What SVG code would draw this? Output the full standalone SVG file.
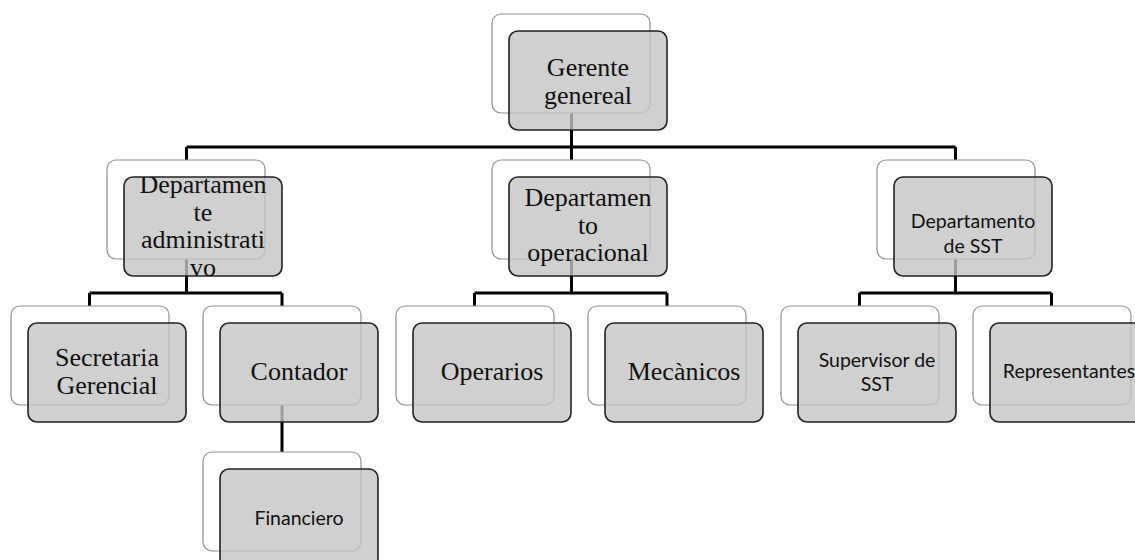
<svg xmlns="http://www.w3.org/2000/svg" width="1135" height="560" viewBox="0 0 1135 560">
<style>
.bk{fill:#ffffff;stroke:#8f8f8f;stroke-width:1.2}
.fr{fill:rgb(196,196,196);fill-opacity:0.8;stroke:#222222;stroke-width:1.6}
.sr{font-family:"Liberation Serif","Times New Roman",serif;font-size:26px;fill:#111111;text-anchor:middle}
.ss{font-family:Lato,"Liberation Sans",sans-serif;font-size:19.5px;fill:#111111;text-anchor:middle}
.cn{fill:none;stroke:#000000;stroke-width:3}
</style>
<defs>
<clipPath id="clipAdmin"><rect x="124" y="177" width="158" height="99" rx="9"/></clipPath>
</defs>
<rect width="1135" height="560" fill="#ffffff"/>
<g id="connectors" class="cn">
<path d="M571.5 113V147M186.5 147H955.5M186.5 147V160M571.5 147V160M955.5 147V160"/>
<path d="M186.5 259V293M89.5 293H282M89.5 293V306M282 293V306"/>
<path d="M571.5 259V293M474.5 293H667M474.5 293V306M667 293V306"/>
<path d="M955.5 259V293M859.5 293H1051.5M859.5 293V306M1051.5 293V306"/>
<path d="M282 405V452"/>
</g>
<g id="gerente">
<rect class="bk" x="492" y="14" width="158" height="99" rx="9"/>
<rect class="fr" x="509" y="31" width="158" height="99" rx="9"/>
<text class="sr"><tspan x="588" y="76">Gerente</tspan><tspan x="588" y="103.5">genereal</tspan></text>
</g>
<g id="dept-admin">
<rect class="bk" x="107" y="160" width="158" height="99" rx="9"/>
<rect class="fr" x="124" y="177" width="158" height="99" rx="9"/>
<text class="sr" clip-path="url(#clipAdmin)"><tspan x="203" y="193">Departamen</tspan><tspan x="203" y="220.5">te</tspan><tspan x="203" y="248">administrati</tspan><tspan x="203" y="275.5">vo</tspan></text>
</g>
<g id="dept-oper">
<rect class="bk" x="492" y="160" width="158" height="99" rx="9"/>
<rect class="fr" x="509" y="177" width="158" height="99" rx="9"/>
<text class="sr"><tspan x="588" y="206">Departamen</tspan><tspan x="588" y="233.5">to</tspan><tspan x="588" y="261">operacional</tspan></text>
</g>
<g id="dept-sst">
<rect class="bk" x="877" y="160" width="158" height="99" rx="9"/>
<rect class="fr" x="894" y="177" width="158" height="99" rx="9"/>
<text class="ss"><tspan x="973" y="228">Departamento</tspan><tspan x="973" y="253">de SST</tspan></text>
</g>
<g id="secretaria">
<rect class="bk" x="11" y="306" width="158" height="99" rx="9"/>
<rect class="fr" x="28" y="323" width="158" height="99" rx="9"/>
<text class="sr"><tspan x="107" y="366">Secretaria</tspan><tspan x="107" y="393.5">Gerencial</tspan></text>
</g>
<g id="contador">
<rect class="bk" x="203" y="306" width="158" height="99" rx="9"/>
<rect class="fr" x="220" y="323" width="158" height="99" rx="9"/>
<text class="sr" x="299" y="380">Contador</text>
</g>
<g id="operarios">
<rect class="bk" x="396" y="306" width="158" height="99" rx="9"/>
<rect class="fr" x="413" y="323" width="158" height="99" rx="9"/>
<text class="sr" x="492" y="380">Operarios</text>
</g>
<g id="mecanicos">
<rect class="bk" x="588" y="306" width="158" height="99" rx="9"/>
<rect class="fr" x="605" y="323" width="158" height="99" rx="9"/>
<text class="sr" x="684" y="380">Mecànicos</text>
</g>
<g id="supervisor">
<rect class="bk" x="781" y="306" width="158" height="99" rx="9"/>
<rect class="fr" x="798" y="323" width="158" height="99" rx="9"/>
<text class="ss"><tspan x="877" y="367">Supervisor de</tspan><tspan x="877" y="391">SST</tspan></text>
</g>
<g id="representantes">
<rect class="bk" x="973" y="306" width="158" height="99" rx="9"/>
<rect class="fr" x="990" y="323" width="158" height="99" rx="9"/>
<text class="ss" x="1069" y="378">Representantes</text>
</g>
<g id="financiero">
<rect class="bk" x="203" y="452" width="158" height="99" rx="9"/>
<rect class="fr" x="220" y="469" width="158" height="99" rx="9"/>
<text class="ss" x="299" y="525">Financiero</text>
</g>
</svg>
